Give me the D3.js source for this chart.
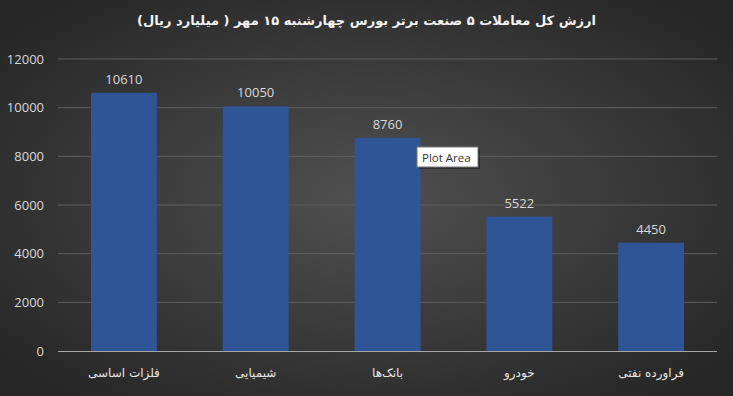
<!DOCTYPE html>
<html>
<head>
<meta charset="utf-8">
<script src="https://cdn.jsdelivr.net/npm/d3@7"></script>
<style>
	body { margin: 0; padding: 0; background: #333; }
	svg { display: block; }
</style>
</head>
<body>
<script>
const categories = ["فلزات اساسی", "شیمیایی", "بانک‌ها", "خودرو", "فراورده نفتی"];
const values = [10610, 10050, 8760, 5522, 4450];
const yTicks = [0, 2000, 4000, 6000, 8000, 10000, 12000];
const title = "ارزش کل معاملات ۵ صنعت برتر بورس چهارشنبه ۱۵ مهر ( میلیارد ریال)";

const W = 733, H = 396;
const plotLeft = 58, plotRight = 717, plotTop = 59, plotBottom = 351;
const numFont = "'Open Sans', 'Liberation Sans', sans-serif";

const svg = d3.select("body").append("svg")
	.attr("width", W)
	.attr("height", H);

const defs = svg.append("defs");
const grad = defs.append("radialGradient")
	.attr("id", "bg")
	.attr("cx", "50%").attr("cy", "50%").attr("r", "65%");
grad.append("stop").attr("offset", "0%").attr("stop-color", "#505050");
grad.append("stop").attr("offset", "100%").attr("stop-color", "#262626");

svg.append("rect")
	.attr("width", W)
	.attr("height", H)
	.attr("fill", "url(#bg)");

const x = d3.scaleBand()
	.domain(categories)
	.range([plotLeft, plotRight])
	.paddingInner(0.5)
	.paddingOuter(0.25);

const y = d3.scaleLinear()
	.domain([0, 12000])
	.range([plotBottom, plotTop]);

// gridlines
svg.append("g")
	.selectAll("line")
	.data(yTicks.slice(1))
	.join("line")
	.attr("x1", plotLeft).attr("x2", plotRight)
	.attr("y1", d => y(d)).attr("y2", d => y(d))
	.attr("stroke", "#5e5e5e")
	.attr("stroke-width", 1);

// y axis labels
const yAxis = svg.append("g")
	.attr("transform", `translate(${plotLeft},0)`)
	.call(d3.axisLeft(y).tickValues(yTicks).tickFormat(d3.format("d")).tickSize(0).tickPadding(14));
yAxis.select(".domain").remove();
yAxis.selectAll("text")
	.attr("fill", "#d9d9d9")
	.style("font-family", numFont)
	.style("font-size", "13px");

// bars
svg.append("g")
	.selectAll("rect")
	.data(values)
	.join("rect")
	.attr("x", (d, i) => x(categories[i]))
	.attr("y", d => y(d))
	.attr("width", x.bandwidth())
	.attr("height", d => y(0) - y(d))
	.attr("fill", "#2f5597");

// value labels
svg.append("g")
	.selectAll("text")
	.data(values)
	.join("text")
	.attr("x", (d, i) => x(categories[i]) + x.bandwidth() / 2)
	.attr("y", d => y(d) - 9)
	.attr("text-anchor", "middle")
	.attr("fill", "#d9d9d9")
	.style("font-family", numFont)
	.style("font-size", "13px")
	.text(d => d);

// x axis
const xAxis = svg.append("g")
	.attr("transform", `translate(0,${plotBottom})`)
	.call(d3.axisBottom(x).tickSize(0).tickPadding(17));
xAxis.select(".domain")
	.attr("stroke", "#a6a6a6")
	.attr("d", `M${plotLeft},0.5H${plotRight}`);
xAxis.selectAll("text")
	.attr("fill", "#e6e6e6")
	.attr("direction", "rtl")
	.style("font-family", "'DejaVu Sans', sans-serif")
	.style("font-size", "12px");

// title
svg.append("text")
	.attr("x", W / 2)
	.attr("y", 25)
	.attr("text-anchor", "middle")
	.attr("direction", "rtl")
	.attr("fill", "#f2f2f2")
	.style("font-family", "'DejaVu Sans', sans-serif")
	.style("font-weight", "bold")
	.style("font-size", "13px")
	.text(title);

// tooltip box seen in the reference
const tip = svg.append("g").attr("transform", "translate(417,147)");
tip.append("rect")
	.attr("x", 2).attr("y", 2)
	.attr("width", 61).attr("height", 20)
	.attr("fill", "rgba(0,0,0,0.35)");
tip.append("rect")
	.attr("width", 61).attr("height", 20)
	.attr("fill", "#ffffff")
	.attr("stroke", "#767676");
tip.append("text")
	.attr("x", 5).attr("y", 14.5)
	.attr("fill", "#333")
	.style("font-family", numFont)
	.style("font-size", "11.5px")
	.text("Plot Area");
</script>
</body>
</html>
